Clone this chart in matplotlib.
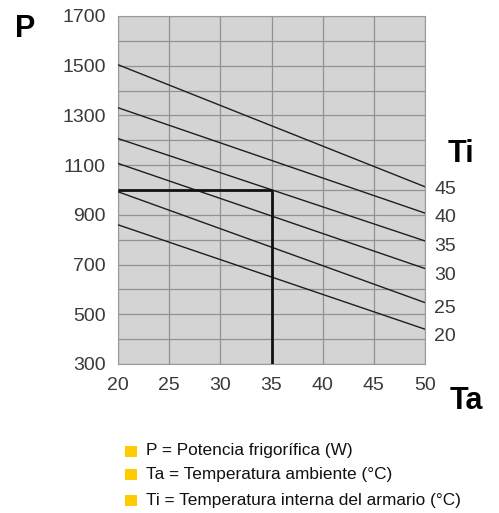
import matplotlib
matplotlib.use("Agg")
import matplotlib.pyplot as plt
from matplotlib.patches import Rectangle

plt.rcParams['font.family'] = ['Liberation Sans', 'DejaVu Sans']

# Data
ta_range = [20, 50]
ti_levels = [45, 40, 35, 30, 25, 20]
p_at_20 = [1504, 1331, 1207, 1107, 993, 860]
p_at_50 = [1013, 907, 795, 684, 547, 440]
ti_label_y = [1004, 888, 772, 656, 524, 412]
x_ticks = [20, 25, 30, 35, 40, 45, 50]
y_ticks = [300, 500, 700, 900, 1100, 1300, 1500, 1700]
ref_ta = 35
ref_p = 1000
legend_items = ["P = Potencia frigorífica (W)",
                "Ta = Temperatura ambiente (°C)",
                "Ti = Temperatura interna del armario (°C)"]

W, H = 499, 513
fig = plt.figure(figsize=(W / 100, H / 100), dpi=100)
ax = fig.add_axes([118 / W, 1 - 364 / H, (425 - 118) / W, (364 - 16) / H])
ax.set_facecolor('#d4d4d4')
ax.set_xlim(20, 50)
ax.set_ylim(300, 1700)

# grid
for xv in range(20, 51, 5):
    ax.axvline(xv, color='#929292', lw=0.9, zorder=1)
for yv in range(300, 1701, 100):
    ax.axhline(yv, color='#929292', lw=0.9, zorder=1)

for p0, p1 in zip(p_at_20, p_at_50):
    ax.plot(ta_range, [p0, p1], color='#1e1e1e', lw=1.0, zorder=3)

ax.plot([20, ref_ta], [ref_p, ref_p], color='#111111', lw=2.0, zorder=4, solid_capstyle='butt')
ax.plot([ref_ta, ref_ta], [300, ref_p], color='#111111', lw=2.0, zorder=4, solid_capstyle='butt')

ax.set_xticks(x_ticks)
ax.set_yticks(y_ticks)
ax.tick_params(length=0, labelsize=14, labelcolor='#3a3a3a', pad=9)
for s in ax.spines.values():
    s.set_color('#9a9a9a')
    s.set_linewidth(0.8)

for ti, yv in zip(ti_levels, ti_label_y):
    ax.text(50.9, yv, str(ti), fontsize=14, color='#3a3a3a', va='center', ha='left', clip_on=False)

def fx(px):
    return px / W

def fy(py):
    return 1 - py / H

fig.text(fx(15), fy(29), "P", fontsize=22, fontweight='bold', va='center', ha='left')
fig.text(fx(448), fy(154), "Ti", fontsize=22, fontweight='bold', va='center', ha='left')
fig.text(fx(450), fy(401), "Ta", fontsize=22, fontweight='bold', va='center', ha='left')

ys = [451, 474, 500]
for label, py in zip(legend_items, ys):
    fig.patches.append(Rectangle((fx(125.5), fy(py + 5.5)), 11 / W, 11 / H,
                                 transform=fig.transFigure, facecolor='#ffcc00', edgecolor='none'))
    fig.text(fx(146), fy(py), label, fontsize=12.4, color='#111111', va='center', ha='left')

fig.savefig('out.png', dpi=100)
